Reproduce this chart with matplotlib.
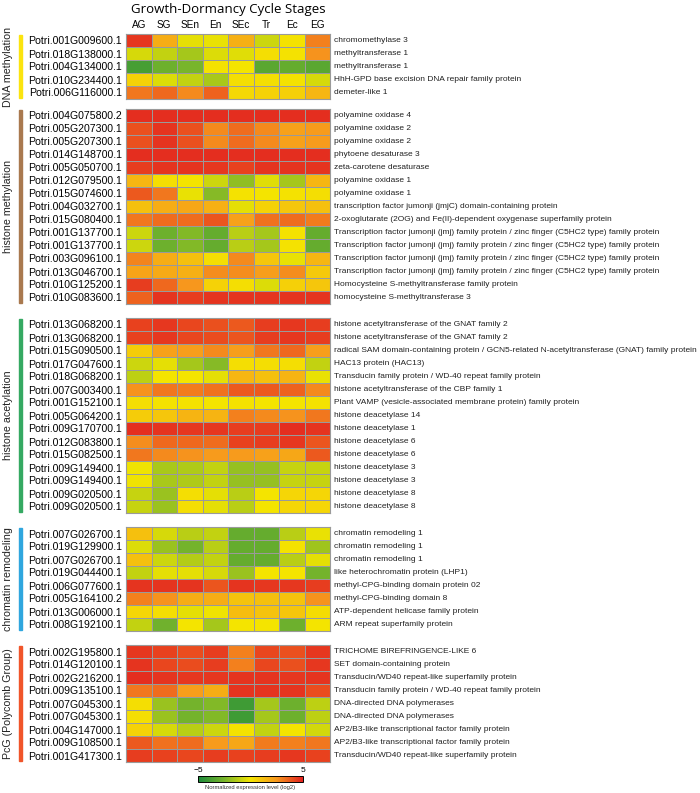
import numpy as np
import matplotlib
matplotlib.use("Agg")
import matplotlib.pyplot as plt
from matplotlib.colors import LinearSegmentedColormap, Normalize

plt.rcParams['font.family'] = ['Liberation Sans', 'DejaVu Sans']

stages = ["AG", "SG", "SEn", "En", "SEc", "Tr", "Ec", "EG"]

group_names = ["DNA methylation", "histone methylation", "histone acetylation",
               "chromatin remodeling", "PcG (Polycomb Group)"]
group_colors = ["#fbe40f", "#a9794f", "#35a962", "#2fa6de", "#f0552a"]

# DNA methylation
dna_genes = ["Potri.001G009600.1", "Potri.018G138000.1", "Potri.004G134000.1",
             "Potri.010G234400.1", "Potri.006G116000.1"]
dna_desc = ["chromomethylase 3", "methyltransferase 1", "methyltransferase 1",
            "HhH-GPD base excision DNA repair family protein", "demeter-like 1"]
dna_vals = [
    [4.5, 1.8, -0.3, -0.2, 1.7, -0.8, 0.1, 3.0],
    [-0.6, -1.0, -1.6, -0.5, -0.4, 0.2, 0.1, 2.6],
    [-3.8, -2.8, -2.5, 0.1, 0.0, -3.3, -3.0, -3.3],
    [0.6, -0.5, -1.0, -1.5, 0.2, 0.2, 0.1, -0.6],
    [3.2, 3.5, 2.8, 3.6, 0.4, 0.6, 0.7, 1.5],
]

# histone methylation
hme_genes = ["Potri.004G075800.2", "Potri.005G207300.1", "Potri.005G207300.1",
             "Potri.014G148700.1", "Potri.005G050700.1", "Potri.012G079500.1",
             "Potri.015G074600.1", "Potri.004G032700.1", "Potri.015G080400.1",
             "Potri.001G137700.1", "Potri.001G137700.1", "Potri.003G096100.1",
             "Potri.013G046700.1", "Potri.010G125200.1", "Potri.010G083600.1"]
jmj = "Transcription factor jumonji (jmj) family protein / zinc finger (C5HC2 type) family protein"
hme_desc = ["polyamine oxidase 4", "polyamine oxidase 2", "polyamine oxidase 2",
            "phytoene desaturase 3", "zeta-carotene desaturase", "polyamine oxidase 1",
            "polyamine oxidase 1", "transcription factor jumonji (jmjC) domain-containing protein",
            "2-oxoglutarate (2OG) and Fe(II)-dependent oxygenase superfamily protein",
            jmj, jmj, jmj, jmj,
            "Homocysteine S-methyltransferase family protein",
            "homocysteine S-methyltransferase 3"]
hme_vals = [
    [4.7, 4.7, 4.7, 4.7, 4.7, 4.7, 4.7, 4.7],
    [4.0, 4.6, 4.0, 2.8, 3.4, 2.8, 2.2, 2.4],
    [4.0, 4.6, 4.0, 2.8, 3.4, 2.8, 2.2, 2.4],
    [4.7, 4.7, 4.7, 4.7, 4.7, 4.7, 4.7, 4.7],
    [4.4, 4.6, 4.6, 4.5, 4.3, 4.6, 4.6, 4.6],
    [1.5, 0.2, 0.0, -0.8, -2.0, -0.4, -1.6, 1.5],
    [3.8, 3.2, -0.2, -2.2, 0.1, 0.0, 0.1, 0.2],
    [1.2, 1.8, 2.0, 1.7, -0.3, 0.6, 1.0, 1.2],
    [3.2, 3.4, 3.4, 3.9, 2.2, 3.3, 3.4, 3.1],
    [-0.8, -2.8, -2.3, -3.0, -1.2, -1.6, 0.1, -3.0],
    [-0.8, -2.8, -2.3, -3.0, -1.2, -1.6, 0.1, -3.0],
    [2.9, 1.8, 1.2, 0.2, 2.8, 1.0, -0.2, 1.5],
    [2.1, 1.9, 1.7, 2.7, 2.7, 2.3, 2.7, 0.9],
    [4.4, 3.5, 2.5, 0.6, 0.2, -0.5, 0.7, 1.0],
    [3.6, 4.6, 4.4, 4.6, 4.6, 4.6, 4.6, 4.6],
]

# histone acetylation
hac_genes = ["Potri.013G068200.1", "Potri.013G068200.1", "Potri.015G090500.1",
             "Potri.017G047600.1", "Potri.018G068200.1", "Potri.007G003400.1",
             "Potri.001G152100.1", "Potri.005G064200.1", "Potri.009G170700.1",
             "Potri.012G083800.1", "Potri.015G082500.1", "Potri.009G149400.1",
             "Potri.009G149400.1", "Potri.009G020500.1", "Potri.009G020500.1"]
hac_desc = ["histone acetyltransferase of the GNAT family 2",
            "histone acetyltransferase of the GNAT family 2",
            "radical SAM domain-containing protein / GCN5-related N-acetyltransferase (GNAT) family protein",
            "HAC13 protein (HAC13)",
            "Transducin family protein / WD-40 repeat family protein",
            "histone acetyltransferase of the CBP family 1",
            "Plant VAMP (vesicle-associated membrane protein) family protein",
            "histone deacetylase 14", "histone deacetylase 1",
            "histone deacetylase 6", "histone deacetylase 6",
            "histone deacetylase 3", "histone deacetylase 3",
            "histone deacetylase 8", "histone deacetylase 8"]
hac_vals = [
    [4.3, 4.5, 4.2, 4.0, 3.8, 4.4, 4.5, 4.4],
    [4.3, 4.5, 4.2, 4.1, 3.9, 4.4, 4.5, 4.4],
    [0.8, 2.2, 2.3, 2.8, 2.3, 3.2, 3.5, 2.3],
    [-0.8, -0.3, -1.6, -2.2, 0.2, 0.2, 0.2, -1.0],
    [-1.1, 0.0, 0.0, -0.3, 1.5, 1.2, 1.6, -0.2],
    [2.6, 3.2, 3.1, 3.3, 3.8, 3.8, 3.6, 2.8],
    [0.2, 0.1, 0.1, 0.0, 0.1, 0.0, 0.0, 0.1],
    [0.8, 1.0, 1.6, 1.6, 3.0, 2.8, 2.6, 3.2],
    [4.7, 4.6, 4.5, 4.5, 4.4, 4.4, 4.7, 4.6],
    [2.7, 3.5, 3.5, 3.4, 4.3, 4.4, 4.5, 3.9],
    [3.2, 2.8, 2.6, 2.4, 2.4, 2.2, 2.0, 3.8],
    [-0.1, -1.5, -1.4, -1.0, -1.9, -1.9, -0.9, -0.9],
    [-0.1, -1.5, -1.4, -1.0, -1.9, -1.9, -0.9, -0.9],
    [-0.9, -1.8, 0.2, -0.3, -1.2, 0.0, 0.5, 0.5],
    [-0.9, -1.8, 0.2, -0.3, -1.2, 0.0, 0.5, 0.5],
]

# chromatin remodeling
chr_genes = ["Potri.007G026700.1", "Potri.019G129900.1", "Potri.007G026700.1",
             "Potri.019G044400.1", "Potri.006G077600.1", "Potri.005G164100.2",
             "Potri.013G006000.1", "Potri.008G192100.1"]
chr_desc = ["chromatin remodeling 1", "chromatin remodeling 1", "chromatin remodeling 1",
            "like heterochromatin protein (LHP1)", "methyl-CPG-binding domain protein 02",
            "methyl-CPG-binding domain 8", "ATP-dependent helicase family protein",
            "ARM repeat superfamily protein"]
chr_vals = [
    [1.2, -0.6, -1.2, -1.0, -3.0, -3.0, -1.2, -0.2],
    [-0.5, -1.8, -2.6, -1.2, -3.0, -3.0, 0.1, -1.7],
    [1.2, -0.8, -1.3, -1.0, -3.0, -3.0, -1.2, -0.3],
    [-1.0, -0.3, -0.3, -0.6, -1.8, 0.0, 0.0, -2.6],
    [4.6, 4.6, 4.6, 3.9, 4.6, 4.5, 4.5, 4.4],
    [3.0, 2.6, 1.8, 1.8, 1.1, 1.2, 1.1, 2.6],
    [0.5, 0.2, -0.3, -0.1, 1.3, 1.1, 1.0, 0.3],
    [-1.0, -2.7, 0.0, -1.6, 0.0, 0.0, -2.8, 0.0],
]

# PcG
pcg_genes = ["Potri.002G195800.1", "Potri.014G120100.1", "Potri.002G216200.1",
             "Potri.009G135100.1", "Potri.007G045300.1", "Potri.007G045300.1",
             "Potri.004G147000.1", "Potri.009G108500.1", "Potri.001G417300.1"]
pcg_desc = ["TRICHOME BIREFRINGENCE-LIKE 6", "SET domain-containing protein",
            "Transducin/WD40 repeat-like superfamily protein",
            "Transducin family protein / WD-40 repeat family protein",
            "DNA-directed DNA polymerases", "DNA-directed DNA polymerases",
            "AP2/B3-like transcriptional factor family protein",
            "AP2/B3-like transcriptional factor family protein",
            "Transducin/WD40 repeat-like superfamily protein"]
pcg_vals = [
    [4.5, 4.3, 4.1, 4.4, 3.0, 4.2, 4.0, 4.5],
    [4.6, 4.2, 4.1, 4.4, 3.0, 4.2, 4.0, 4.5],
    [4.7, 4.6, 4.5, 4.5, 4.6, 4.6, 4.5, 4.6],
    [3.2, 3.4, 2.3, 1.8, 4.6, 4.6, 4.6, 4.1],
    [0.2, -1.8, -2.6, -2.3, -4.0, -1.6, -2.8, -1.1],
    [0.2, -1.8, -2.6, -2.3, -4.0, -1.6, -2.8, -1.1],
    [0.6, -0.6, -1.2, -0.8, 0.1, -1.0, 0.0, -0.7],
    [3.8, 3.3, 3.4, 2.4, 2.0, 3.1, 3.0, 3.2],
    [4.4, 4.3, 4.2, 4.4, 4.3, 4.4, 4.5, 4.3],
]

groups = [
    (dna_genes, dna_desc, dna_vals),
    (hme_genes, hme_desc, hme_vals),
    (hac_genes, hac_desc, hac_vals),
    (chr_genes, chr_desc, chr_vals),
    (pcg_genes, pcg_desc, pcg_vals),
]

W, H = 700, 793
fig = plt.figure(figsize=(W / 100, H / 100), dpi=100)

cmap = LinearSegmentedColormap.from_list(
    "gyr", ["#1b8a3c", "#78b52b", "#f4e500", "#f7981d", "#e2211f"])
norm = Normalize(-5, 5)

x0, x1 = 126, 330
row_h = 13
tops = [34, 109, 318, 527, 645]

for gi, (genes, desc, vals) in enumerate(groups):
    n = len(genes)
    top = tops[gi]
    bottom = top + n * row_h
    ax = fig.add_axes([x0 / W, 1 - bottom / H, (x1 - x0) / W, n * row_h / H])
    ax.pcolormesh(np.array(vals), cmap=cmap, norm=norm,
                  edgecolors="#9a9a9a", linewidth=0.6)
    ax.set_xlim(0, 8)
    ax.set_ylim(n, 0)
    ax.set_yticks(np.arange(n) + 0.5)
    ax.set_yticklabels(genes, fontsize=7.6)
    ax.tick_params(axis="y", length=0, pad=3)
    for s in ax.spines.values():
        s.set_color("#9a9a9a")
        s.set_linewidth(0.8)
    if gi == 0:
        ax.xaxis.tick_top()
        ax.set_xticks(np.arange(8) + 0.5)
        ax.set_xticklabels(stages, fontsize=7.2)
        ax.tick_params(axis="x", length=0, pad=3)
    else:
        ax.set_xticks([])
    for i, d in enumerate(desc):
        ax.text(1.02, 1 - (i + 0.5) / n, d, transform=ax.transAxes,
                fontsize=6.0, va="center", ha="left", color="#222222")

    # group colour bar and label
    fig.add_artist(plt.Rectangle((19 / W, 1 - (bottom - 1) / H), 3 / W,
                                 (bottom - top - 2) / H, color=group_colors[gi],
                                 transform=fig.transFigure))
    fig.text(8 / W, 1 - (top + bottom) / 2 / H, group_names[gi], rotation=90,
             ha="center", va="center", fontsize=7.7, color="#222222")

fig.text((x0 + x1) / 2 / W, 1 - 9 / H, "Growth-Dormancy Cycle Stages",
         ha="center", va="center", fontsize=9.5, family=["Open Sans", "DejaVu Sans"])

# colour scale
cax = fig.add_axes([198 / W, 1 - 782 / H, 105 / W, 6 / H])
cb = fig.colorbar(plt.cm.ScalarMappable(norm=norm, cmap=cmap), cax=cax,
                  orientation="horizontal")
cb.set_ticks([])
cb.outline.set_linewidth(0.7)
fig.text(198 / W, 1 - 771 / H, "\u22125", ha="center", va="center", fontsize=6)
fig.text(303 / W, 1 - 771 / H, "5", ha="center", va="center", fontsize=6)
fig.text(250 / W, 1 - 788 / H, "Normalized expression level (log2)",
         ha="center", va="center", fontsize=4.2, color="#333333")

fig.savefig("out.png", dpi=100)
